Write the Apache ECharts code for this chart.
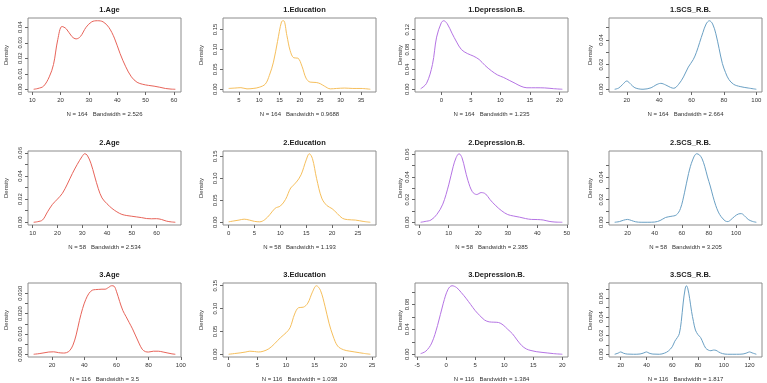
<!DOCTYPE html>
<html>
<head>
<meta charset="utf-8">
<script src="https://cdn.jsdelivr.net/npm/echarts@6/dist/echarts.min.js"></script>
<style>
  html, body { margin: 0; padding: 0; background: #fff; }
  #densityChart { width: 767px; height: 383px; }
</style>
</head>
<body>
<div id="densityChart"></div>
<script>
// panel titles and the R density() footers, row by row
var titles = ['1.Age', '1.Education', '1.Depression.B.', '1.SCS_R.B.',
              '2.Age', '2.Education', '2.Depression.B.', '2.SCS_R.B.',
              '3.Age', '3.Education', '3.Depression.B.', '3.SCS_R.B.'];
var notes = ['N = 164   Bandwidth = 2.526', 'N = 164   Bandwidth = 0.9688', 'N = 164   Bandwidth = 1.235', 'N = 164   Bandwidth = 2.664',
             'N = 58   Bandwidth = 2.534', 'N = 58   Bandwidth = 1.193', 'N = 58   Bandwidth = 2.385', 'N = 58   Bandwidth = 3.205',
             'N = 116   Bandwidth = 3.5', 'N = 116   Bandwidth = 1.038', 'N = 116   Bandwidth = 1.384', 'N = 116   Bandwidth = 1.817'];

// density curves (x, density)
var age1X = [10.5, 12, 14, 16, 17.5, 19, 20.5, 22, 24, 25.5, 27, 29, 31, 33, 35, 37, 39, 41, 43, 45, 47, 49, 51, 53, 55, 57, 59, 60.5];
var age1Y = [0, 0.0005, 0.002, 0.008, 0.016, 0.032, 0.0405, 0.039, 0.034, 0.0325, 0.034, 0.040, 0.0435, 0.0442, 0.0435, 0.040, 0.033, 0.023, 0.0145, 0.008, 0.0045, 0.0032, 0.0025, 0.002, 0.0013, 0.0005, 0.0001, 0];
var edu1X = [2.5, 4, 5.5, 7, 8.5, 10, 11.5, 12.5, 13.5, 14.5, 15.5, 16, 16.8, 17.6, 18.5, 19.5, 20.5, 21.5, 22.5, 24, 25, 26, 27.5, 29, 31, 33, 35, 37.3];
var edu1Y = [0.002, 0.003, 0.004, 0.001, 0.002, 0.005, 0.013, 0.035, 0.068, 0.120, 0.170, 0.172, 0.135, 0.097, 0.079, 0.078, 0.058, 0.028, 0.018, 0.017, 0.014, 0.008, 0.001, 0.002, 0.003, 0.002, 0.002, 0];
var dep1X = [-3.5, -2.5, -1.5, -0.8, 0, 0.4, 1, 1.8, 2.6, 3.4, 4.4, 5.4, 6.4, 7.4, 8.5, 9.5, 10.5, 11.5, 12.5, 13.5, 14.5, 16, 17.5, 19, 20.5];
var dep1Y = [0.001, 0.012, 0.05, 0.105, 0.134, 0.138, 0.132, 0.113, 0.095, 0.080, 0.072, 0.067, 0.060, 0.048, 0.037, 0.029, 0.024, 0.018, 0.012, 0.006, 0.003, 0.003, 0.0027, 0.0012, 0];
var scs1X = [12.5, 15, 17.5, 20, 22.5, 25, 30, 35, 38, 41, 44, 47, 49, 52, 55, 58, 61, 63, 65, 67, 69, 71, 73, 75, 77, 79, 81, 83, 86, 90, 95, 100];
var scs1Y = [0, 0.001, 0.004, 0.0067, 0.004, 0.0012, 0, 0.0012, 0.0035, 0.0048, 0.0035, 0.0015, 0.0008, 0.004, 0.010, 0.018, 0.024, 0.030, 0.038, 0.046, 0.053, 0.0556, 0.053, 0.045, 0.033, 0.021, 0.0135, 0.008, 0.004, 0.0022, 0.001, 0];

var age2X = [10.4, 12, 14, 16, 18, 20, 22, 24, 26, 28, 30, 31, 32, 33.5, 35, 36.5, 38, 40, 42, 44, 46, 48, 50, 52, 54, 56, 58, 60, 62, 64, 66, 67.6];
var age2Y = [0, 0.0005, 0.002, 0.009, 0.0155, 0.020, 0.025, 0.033, 0.042, 0.050, 0.057, 0.0592, 0.058, 0.051, 0.040, 0.029, 0.021, 0.016, 0.012, 0.009, 0.0068, 0.0058, 0.0052, 0.0046, 0.004, 0.0032, 0.003, 0.0031, 0.0024, 0.001, 0.0003, 0];
var edu2X = [0, 1, 2, 3, 4, 5, 6, 7, 8, 9, 10, 11, 12, 13, 14, 15, 15.6, 16.2, 17, 18, 19, 20, 21, 22, 23, 24.5, 26, 27.4];
var edu2Y = [0.001, 0.003, 0.005, 0.007, 0.005, 0.002, 0.001, 0.006, 0.018, 0.032, 0.037, 0.052, 0.078, 0.090, 0.108, 0.142, 0.156, 0.145, 0.100, 0.055, 0.038, 0.031, 0.020, 0.009, 0.006, 0.005, 0.002, 0];
var dep2X = [0.5, 2, 4, 6, 8, 10, 11.5, 12.5, 13.5, 14.5, 15.5, 16.5, 18, 19.5, 21, 22.5, 24, 26, 28, 30, 32, 34, 36, 38, 40, 42, 44, 46, 48.5];
var dep2Y = [0, 0.0007, 0.002, 0.007, 0.016, 0.033, 0.049, 0.057, 0.0605, 0.057, 0.047, 0.037, 0.027, 0.0245, 0.0262, 0.025, 0.020, 0.0145, 0.010, 0.0068, 0.0055, 0.0045, 0.0033, 0.0025, 0.0024, 0.002, 0.0008, 0.0002, 0];
var scs2X = [10.5, 14, 17, 20, 23, 26, 30, 35, 40, 44, 48, 52, 56, 59, 62, 65, 68, 71, 73, 75, 77, 79, 81, 83, 85, 87, 89, 92, 94, 96, 99, 102, 104, 106, 109, 112, 115];
var scs2Y = [0, 0.0006, 0.0018, 0.0025, 0.0015, 0.0004, 0, 0, 0.0002, 0.0015, 0.0042, 0.0052, 0.0065, 0.012, 0.026, 0.043, 0.055, 0.0605, 0.0595, 0.056, 0.049, 0.040, 0.032, 0.023, 0.015, 0.009, 0.005, 0.0012, 0.0006, 0.002, 0.0052, 0.0074, 0.0076, 0.006, 0.0025, 0.0008, 0];

var age3X = [8.6, 12, 15, 18, 21, 24, 27, 29, 31, 33, 35, 37, 39, 41, 43, 45, 47, 49, 51, 53, 55, 57, 58.5, 60, 62, 64, 66, 68, 70, 72, 74, 76, 78, 80, 83, 86, 89, 92, 94.5, 96.6];
var age3Y = [0, 0.0003, 0.0007, 0.0011, 0.0012, 0.0008, 0.0006, 0.0008, 0.0018, 0.0045, 0.0095, 0.0165, 0.0225, 0.027, 0.030, 0.0315, 0.0318, 0.0319, 0.032, 0.032, 0.0328, 0.0337, 0.0335, 0.031, 0.026, 0.0215, 0.0185, 0.0155, 0.0125, 0.009, 0.0055, 0.0025, 0.0013, 0.0011, 0.0015, 0.0015, 0.0011, 0.0006, 0.0002, 0];
var edu3X = [0, 1, 2, 3, 3.7, 4.5, 5.2, 6, 7, 8, 9, 10, 10.7, 11.5, 12.2, 13, 13.8, 14.6, 15.3, 16, 16.8, 17.5, 18.2, 19, 20, 21, 22, 23.5, 24.7];
var edu3Y = [0, 0.0015, 0.003, 0.005, 0.0067, 0.006, 0.005, 0.0065, 0.012, 0.023, 0.036, 0.047, 0.058, 0.088, 0.102, 0.103, 0.112, 0.136, 0.150, 0.140, 0.105, 0.068, 0.040, 0.018, 0.010, 0.007, 0.005, 0.002, 0];
var dep3X = [-4.4, -3.5, -2.5, -1.5, -0.5, 0.3, 1, 1.8, 2.6, 3.4, 4.2, 5, 5.8, 6.6, 7.4, 8.2, 9, 9.8, 10.6, 11.4, 12.2, 13, 13.8, 14.6, 15.5, 16.5, 17.5, 18.5, 20];
var dep3Y = [0.001, 0.005, 0.018, 0.046, 0.082, 0.104, 0.110, 0.107, 0.099, 0.090, 0.080, 0.070, 0.062, 0.055, 0.052, 0.0515, 0.051, 0.047, 0.040, 0.033, 0.023, 0.014, 0.0085, 0.006, 0.0042, 0.003, 0.002, 0.001, 0];
var scs3X = [15.3, 18, 20, 22, 25, 30, 35, 38, 40, 42, 45, 50, 54, 57, 60, 62, 64, 65.5, 67, 68.5, 70, 71, 72, 73.5, 75, 76.5, 78, 80, 82, 84, 86, 88, 90, 92, 94, 96, 99, 103, 110, 115, 118, 120, 122, 125.3];
var scs3Y = [0, 0.0012, 0.0025, 0.0012, 0.0002, 0, 0.0003, 0.0015, 0.0025, 0.0012, 0.0002, 0, 0.0012, 0.0035, 0.008, 0.014, 0.018, 0.022, 0.035, 0.055, 0.070, 0.0735, 0.071, 0.060, 0.046, 0.035, 0.026, 0.021, 0.018, 0.012, 0.0065, 0.0045, 0.0038, 0.0045, 0.0042, 0.0025, 0.0007, 0, 0, 0.0003, 0.0015, 0.0025, 0.0015, 0];

// axis ticks and which of them carry a label (R drops crowded labels)
var xTicks = [[10, 20, 30, 40, 50, 60], [5, 10, 15, 20, 25, 30, 35], [0, 5, 10, 15, 20], [20, 40, 60, 80, 100],
              [10, 20, 30, 40, 50, 60], [0, 5, 10, 15, 20, 25], [0, 10, 20, 30, 40, 50], [20, 40, 60, 80, 100],
              [20, 40, 60, 80, 100], [0, 5, 10, 15, 20, 25], [-5, 0, 5, 10, 15, 20], [20, 40, 60, 80, 100, 120]];
var yTicks = [[0, 0.01, 0.02, 0.03, 0.04], [0, 0.05, 0.10, 0.15], [0, 0.02, 0.04, 0.06, 0.08, 0.10, 0.12], [0, 0.01, 0.02, 0.03, 0.04, 0.05],
              [0, 0.01, 0.02, 0.03, 0.04, 0.05, 0.06], [0, 0.05, 0.10, 0.15], [0, 0.01, 0.02, 0.03, 0.04, 0.05, 0.06], [0, 0.01, 0.02, 0.03, 0.04, 0.05],
              [0, 0.005, 0.010, 0.015, 0.020, 0.025, 0.030], [0, 0.05, 0.10, 0.15], [0, 0.02, 0.04, 0.06, 0.08, 0.10], [0, 0.01, 0.02, 0.03, 0.04, 0.05, 0.06, 0.07]];
var yLabels = [[0, 0.01, 0.02, 0.03, 0.04], [0, 0.05, 0.10, 0.15], [0, 0.04, 0.08, 0.12], [0, 0.02, 0.04],
               [0, 0.02, 0.04, 0.06], [0, 0.05, 0.10, 0.15], [0, 0.02, 0.04, 0.06], [0, 0.02, 0.04],
               [0, 0.010, 0.020, 0.030], [0, 0.05, 0.10, 0.15], [0, 0.04, 0.08], [0, 0.02, 0.04, 0.06]];
var yDigits = [2, 2, 2, 2, 2, 2, 2, 2, 3, 2, 2, 2];

var curvesX = [age1X, edu1X, dep1X, scs1X, age2X, edu2X, dep2X, scs2X, age3X, edu3X, dep3X, scs3X];
var curvesY = [age1Y, edu1Y, dep1Y, scs1Y, age2Y, edu2Y, dep2Y, scs2Y, age3Y, edu3Y, dep3Y, scs3Y];

var colColors = ['#e8645a', '#f6bf5c', '#b574e4', '#6aa0c4'];
var colLeft = [28, 223, 415, 609];
var rowTop = [18, 151, 283];
var boxW = 153, boxH = 74;
var nameGaps = [19, 19, 12, 16];
var font = 'Liberation Sans, Arial, sans-serif';

var chart = echarts.init(document.getElementById('densityChart'));

var grids = [], xAxes = [], yAxes = [], series = [], heads = [];
for (var i = 0; i < 12; i++) {
    var col = i % 4, row = Math.floor(i / 4);
    var xs = curvesX[i], ys = curvesY[i];
    var xmin = Math.min.apply(null, xs), xmax = Math.max.apply(null, xs);
    var ymax = Math.max.apply(null, ys);
    var xpad = (xmax - xmin) * 0.04;
    var digits = yDigits[i];

    grids.push({
        left: colLeft[col], top: rowTop[row], width: boxW, height: boxH,
        show: true, borderColor: '#8c8c8c', borderWidth: 1, backgroundColor: '#fff'
    });
    xAxes.push({
        type: 'value', gridIndex: i,
        min: xmin - xpad, max: xmax + xpad,
        name: notes[i], nameLocation: 'middle', nameGap: 19,
        nameTextStyle: { fontSize: 6, color: '#333', fontFamily: font },
        axisLine: { show: false, onZero: false },
        axisTick: { show: true, length: 3, customValues: xTicks[i], lineStyle: { color: '#666' } },
        axisLabel: { customValues: xTicks[i], fontSize: 6, color: '#333', margin: 5, fontFamily: font },
        splitLine: { show: false }
    });
    yAxes.push({
        type: 'value', gridIndex: i,
        min: -ymax * 0.04, max: ymax * 1.04,
        name: 'Density', nameLocation: 'middle', nameGap: nameGaps[col], nameRotate: 90,
        nameTextStyle: { fontSize: 6, color: '#333', fontFamily: font },
        axisLine: { show: false, onZero: false },
        axisTick: { show: true, length: 3, customValues: yTicks[i], lineStyle: { color: '#666' } },
        axisLabel: {
            customValues: yLabels[i], rotate: 90, fontSize: 6, color: '#333', margin: 5, fontFamily: font,
            formatter: (function (d) { return function (v) { return v.toFixed(d); }; })(digits)
        },
        splitLine: { show: false }
    });
    var pts = [];
    for (var k = 0; k < xs.length; k++) pts.push([xs[k], ys[k]]);
    series.push({
        type: 'line', xAxisIndex: i, yAxisIndex: i, data: pts,
        smooth: 0.35, showSymbol: false, silent: true,
        lineStyle: { color: colColors[col], width: 1 },
        itemStyle: { color: colColors[col] }
    });
    heads.push({
        text: titles[i], left: colLeft[col] + boxW / 2, top: rowTop[row] - 17, textAlign: 'center',
        textStyle: { fontSize: 7.5, fontWeight: 'bold', color: '#222', fontFamily: font }
    });
}

chart.setOption({
    animation: false,
    backgroundColor: '#fff',
    title: heads,
    grid: grids,
    xAxis: xAxes,
    yAxis: yAxes,
    series: series
});
</script>
</body>
</html>
